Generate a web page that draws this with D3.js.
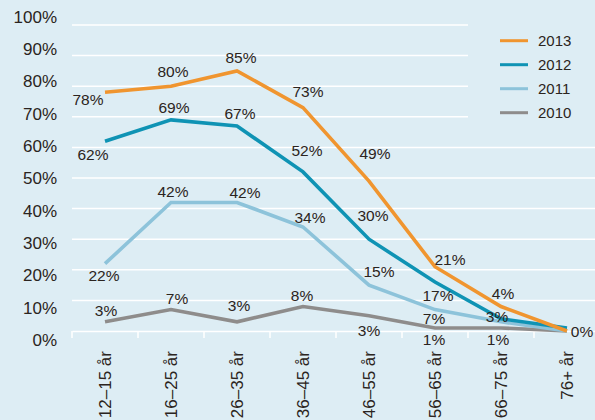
<!DOCTYPE html>
<html>
<head>
<meta charset="utf-8">
<script src="https://cdn.jsdelivr.net/npm/d3@7"></script>
<style>
  body { margin: 0; background: #ddedf4; }
  svg { display: block; font-family: "Liberation Sans", Arial, sans-serif; }
</style>
</head>
<body>
<div id="chart"></div>
<script>
// categories + series (percent)
const categories = ["12–15 år", "16–25 år", "26–35 år", "36–45 år", "46–55 år", "56–65 år", "66–75 år", "76+ år"];
const years = ["2013", "2012", "2011", "2010"];
const values2013 = [78, 80, 85, 73, 49, 21, 8, 0];
const values2012 = [62, 69, 67, 52, 30, 16, 4, 1];
const values2011 = [22, 42, 42, 34, 15, 7, 3, 0];
const values2010 = [3, 7, 3, 8, 5, 1, 1, 0];
// printed labels (as in the source, some differ from the line)
const labels2013 = ["78%", "80%", "85%", "73%", "49%", "21%", "4%", "0%"];
const labels2012 = ["62%", "69%", "67%", "52%", "30%", "17%", "3%", null];
const labels2011 = ["22%", "42%", "42%", "34%", "15%", "7%", null, null];
const labels2010 = ["3%", "7%", "3%", "8%", "3%", "1%", "1%", null];
const yTicks = [0, 10, 20, 30, 40, 50, 60, 70, 80, 90, 100];

// label placement relative to the point (dx, dy of text centre)
const labelOffsets = {
  "2013": [[-17, 7], [2, -15], [4, -13], [5, -16], [6, -28], [15, -7], [2, -13], [15, 0]],
  "2012": [[-12, 13], [3, -12], [3, -13], [4, -21], [4, -24], [3, 13], [-4, -2], null],
  "2011": [[-1, 12], [2, -11], [8, -10], [7, -10], [10, -14], [-1, 9], null, null],
  "2010": [[1, -11], [6, -11], [2, -16], [-1, -11], [0, 15], [-1, 11], [-3, 11], null]
};

const series = [
  { name: "2010", values: values2010, labels: labels2010, color: "#8e8c8b" },
  { name: "2011", values: values2011, labels: labels2011, color: "#8dc3da" },
  { name: "2012", values: values2012, labels: labels2012, color: "#0f93b4" },
  { name: "2013", values: values2013, labels: labels2013, color: "#f0952f" }
];

const width = 595, height = 420;
const textColor = "#2b2420";

const svg = d3.select("#chart").append("svg")
  .attr("width", width)
  .attr("height", height);

svg.append("rect").attr("width", width).attr("height", height).attr("fill", "#ddedf4");

/* scales */
const x = d3.scaleBand().domain(categories).range([72, 600]);
const cx = c => x(c) + x.bandwidth() / 2;
const y = d3.scaleLinear().domain([0, 100]).range([331, 25]);
// tick labels are spaced a bit wider than the grid in the original
const yLab = d3.scaleLinear().domain([0, 100]).range([340, 16.7]);

/* grid */
const legendLeft = 468;
svg.append("g").selectAll("line")
  .data(yTicks.filter(v => v > 0)).enter()
  .append("line")
  .attr("x1", 72)
  .attr("x2", v => v >= 70 ? legendLeft : width)
  .attr("y1", v => y(v)).attr("y2", v => y(v))
  .attr("stroke", "#ffffff").attr("stroke-width", 1.5);

/* y labels */
svg.append("g").selectAll("text")
  .data(yTicks).enter()
  .append("text")
  .attr("x", 57)
  .attr("y", v => yLab(v))
  .attr("dy", "0.36em")
  .attr("text-anchor", "end")
  .attr("font-size", 17)
  .attr("fill", textColor)
  .text(v => v + "%");

/* x axis */
const xAxis = d3.axisBottom(x).tickSize(0).tickPadding(0);
const gx = svg.append("g")
  .attr("transform", `translate(0, ${y(0)})`)
  .call(xAxis);
gx.select(".domain").attr("stroke", "#ffffff").attr("stroke-width", 1.5);
gx.selectAll(".tick text")
  .attr("font-size", 17)
  .attr("font-family", "Liberation Sans, Arial, sans-serif")
  .attr("fill", textColor)
  .attr("text-anchor", "end")
  .attr("transform", "rotate(-90)")
  .attr("x", -20)
  .attr("y", 0)
  .attr("dy", "0.36em");
gx.selectAll(".bound")
  .data(categories).enter()
  .append("line")
  .attr("class", "bound")
  .attr("x1", c => x(c)).attr("x2", c => x(c))
  .attr("y1", 0).attr("y2", 7)
  .attr("stroke", "#ffffff").attr("stroke-width", 1.5);

/* lines */
const line = d3.line()
  .x((d, i) => cx(categories[i]))
  .y(d => y(d));

svg.append("g").selectAll("path")
  .data(series).enter()
  .append("path")
  .attr("d", s => line(s.values))
  .attr("fill", "none")
  .attr("stroke", s => s.color)
  .attr("stroke-width", 3.6)
  .attr("stroke-linejoin", "miter");

/* point labels */
const labelData = [];
series.forEach(s => {
  s.labels.forEach((t, i) => {
    if (t == null) return;
    const off = labelOffsets[s.name][i];
    labelData.push({ text: t, x: cx(categories[i]) + off[0], y: y(s.values[i]) + off[1] });
  });
});
svg.append("g").selectAll("text")
  .data(labelData).enter()
  .append("text")
  .attr("x", d => d.x)
  .attr("y", d => d.y)
  .attr("dy", "0.36em")
  .attr("text-anchor", "middle")
  .attr("font-size", 15.5)
  .attr("fill", textColor)
  .text(d => d.text);

/* legend */
const legendColors = { "2013": "#f0952f", "2012": "#0f93b4", "2011": "#8dc3da", "2010": "#8e8c8b" };
const lg = svg.append("g").attr("transform", "translate(500, 40.7)");
const item = lg.selectAll("g")
  .data(years).enter()
  .append("g")
  .attr("transform", (d, i) => `translate(0, ${i * 24})`);
item.append("line")
  .attr("x1", 0).attr("x2", 28)
  .attr("stroke", d => legendColors[d])
  .attr("stroke-width", 3);
item.append("text")
  .attr("x", 38)
  .attr("dy", "0.36em")
  .attr("font-size", 15)
  .attr("fill", textColor)
  .text(d => d);
</script>
</body>
</html>
